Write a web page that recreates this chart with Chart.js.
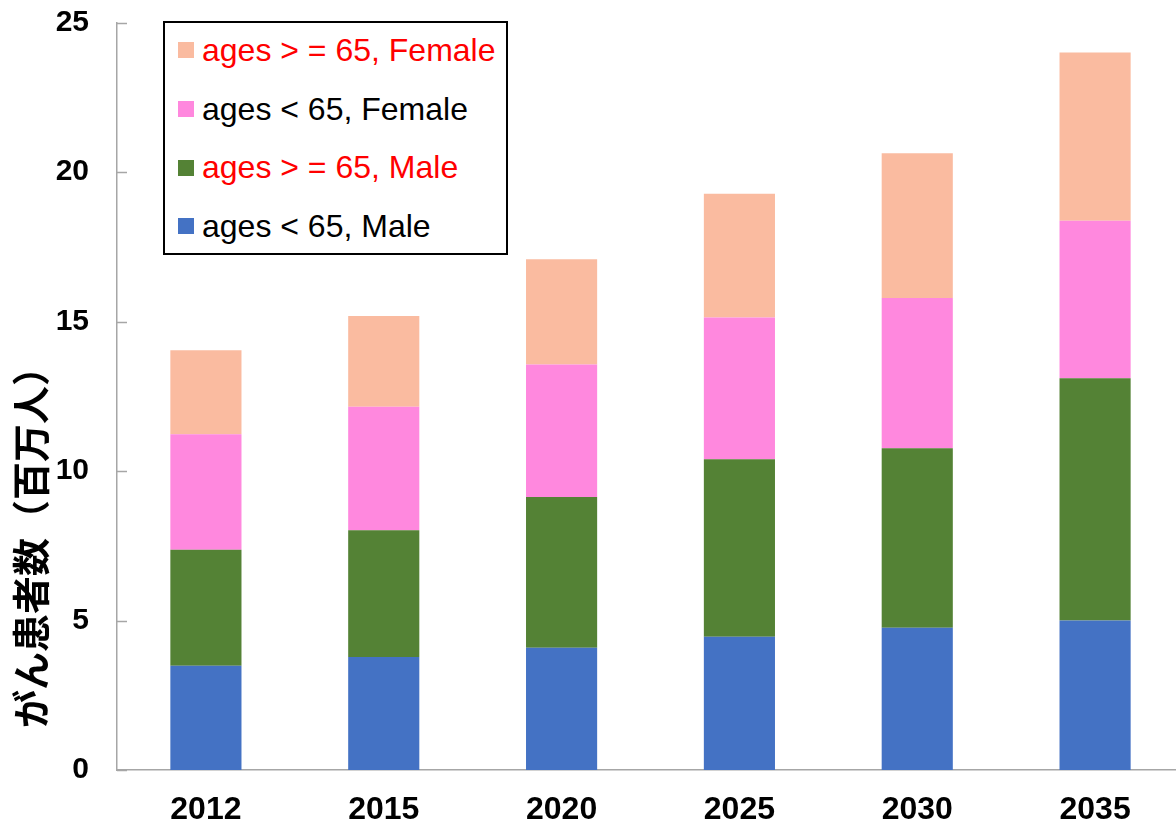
<!DOCTYPE html>
<html>
<head>
<meta charset="utf-8">
<script src="https://cdn.jsdelivr.net/npm/chart.js@4.4.1/dist/chart.umd.min.js"></script>
<style>
html,body{margin:0;padding:0;background:#fff;overflow:hidden;}
#wrap{position:relative;width:1176px;height:823px;overflow:hidden;}
#c{position:absolute;left:0;top:0;}
#legend{position:absolute;left:163px;top:21px;width:341px;height:230px;border:2px solid #000;background:#fff;font-family:"Liberation Sans",Arial,sans-serif;font-size:32px;}
.row{position:absolute;left:13px;height:36px;display:flex;align-items:center;white-space:nowrap;}
.sw{width:16px;height:16px;margin-right:8px;flex:none;}
</style>
</head>
<body>
<div id="wrap">
<canvas id="c" width="1184" height="823"></canvas>
<div id="legend"></div>
</div>
<script>
const categories = ['2012', '2015', '2020', '2025', '2030', '2035'];
const maleUnder65   = [3.49, 3.78, 4.09, 4.46, 4.76, 5.00];
const maleOver65    = [3.88, 4.24, 5.04, 5.93, 6.00, 8.10];
const femaleUnder65 = [3.86, 4.13, 4.43, 4.74, 5.03, 5.27];
const femaleOver65  = [2.81, 3.03, 3.52, 4.14, 4.84, 5.63];
const seriesNames = ['ages < 65, Male', 'ages > = 65, Male', 'ages < 65, Female', 'ages > = 65, Female'];
const yTitle = 'がん患者数（百万人）';
const yMin = 0, yMax = 25, yStep = 5;

const colors = ['#4472C4', '#548235', '#FF88DE', '#FABBA0'];
const legendTextColors = ['#000000', '#FF0000', '#000000', '#FF0000'];
const axisColor = '#a6a6a6';
const seriesData = [maleUnder65, maleOver65, femaleUnder65, femaleOver65];

const datasets = seriesData.map((d, i) => ({
  label: seriesNames[i],
  data: d,
  backgroundColor: colors[i],
  borderWidth: 0,
  categoryPercentage: 1.0,
  barPercentage: 0.40
}));

const innerTicks = {
  id: 'innerTicks',
  afterDatasetsDraw(chart) {
    const y = chart.scales.y;
    const ctx = chart.ctx;
    ctx.save();
    ctx.strokeStyle = axisColor;
    ctx.lineWidth = 1.5;
    y.ticks.forEach(t => {
      const py = Math.round(y.getPixelForValue(t.value)) + 0.5;
      ctx.beginPath();
      ctx.moveTo(y.right, py);
      ctx.lineTo(y.right + 10, py);
      ctx.stroke();
    });
    ctx.restore();
  }
};

const yTitlePlugin = {
  id: 'yTitlePlugin',
  afterDraw(chart) {
    const ctx = chart.ctx;
    ctx.save();
    ctx.translate(31, 538);
    ctx.rotate(-Math.PI / 2);
    ctx.font = 'bold 38px "Noto Sans CJK JP"';
    ctx.fillStyle = '#000';
    ctx.textAlign = 'center';
    ctx.textBaseline = 'middle';
    ctx.fillText(yTitle, 0, 0);
    ctx.restore();
  }
};

new Chart(document.getElementById('c'), {
  type: 'bar',
  data: { labels: categories, datasets: datasets },
  options: {
    responsive: false,
    animation: false,
    layout: { padding: { top: 22.5, right: 0, left: 0, bottom: 0 } },
    plugins: { legend: { display: false }, tooltip: { enabled: false } },
    scales: {
      x: {
        stacked: true,
        grid: { display: false, drawTicks: false },
        border: { display: true, color: axisColor, width: 1.5 },
        ticks: {
          color: '#000',
          padding: 21,
          font: { family: '"Liberation Sans", Arial, sans-serif', size: 32, weight: 'bold' }
        },
        afterFit(scale) { scale.height = 53; scale.paddingLeft = 0; scale.paddingRight = 0; }
      },
      y: {
        stacked: true,
        min: yMin,
        max: yMax,
        grid: { display: false, drawTicks: false },
        border: { display: true, color: axisColor, width: 1.5 },
        ticks: {
          stepSize: yStep,
          color: '#000',
          padding: 28,
          font: { family: '"Liberation Sans", Arial, sans-serif', size: 30, weight: 'bold' }
        },
        afterFit(scale) { scale.width = 117; scale.paddingTop = 0; scale.paddingBottom = 0; }
      }
    }
  },
  plugins: [innerTicks, yTitlePlugin]
});

// legend (top-to-bottom order reversed from stack order)
const legend = document.getElementById('legend');
const rowCenters = [27, 86, 144.7, 203];
for (let k = 0; k < seriesNames.length; k++) {
  const i = seriesNames.length - 1 - k;
  const row = document.createElement('div');
  row.className = 'row';
  row.style.top = (rowCenters[k] - 18) + 'px';
  const sw = document.createElement('div');
  sw.className = 'sw';
  sw.style.background = colors[i];
  const tx = document.createElement('span');
  tx.textContent = seriesNames[i];
  tx.style.color = legendTextColors[i];
  row.appendChild(sw);
  row.appendChild(tx);
  legend.appendChild(row);
}
</script>
</body>
</html>
